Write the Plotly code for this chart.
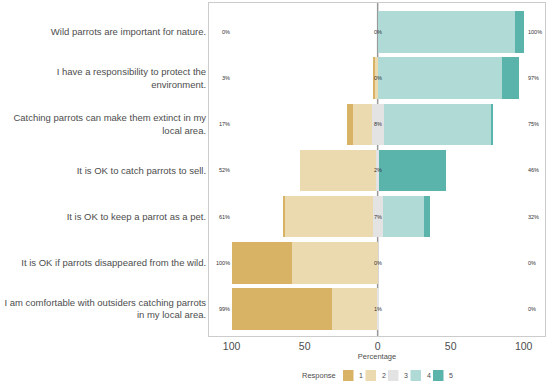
import plotly.graph_objects as go

statements = [
    "Wild parrots are important for nature.",
    "I have a responsibility to protect the<br>environment.",
    "Catching parrots can make them extinct in my<br>local area.",
    "It is OK to catch parrots to sell.",
    "It is OK to keep a parrot as a pet.",
    "It is OK if parrots disappeared from the wild.",
    "I am comfortable with outsiders catching parrots<br>in my local area.",
]
# percentage of answers per response level (1 = strongly disagree ... 5 = strongly agree)
resp1 = [0, 1.5, 4, 0, 1, 41, 68]
resp2 = [0, 1.5, 13, 52, 60, 59, 31]
resp3 = [0, 0, 8, 2, 7, 0, 1]
resp4 = [94, 85, 74, 0, 28, 0, 0]
resp5 = [6, 12, 1, 46, 4, 0, 0]

levels = ["1", "2", "3", "4", "5"]
colors = ["#D8B365", "#EBDAB0", "#E3E3E3", "#AFDAD6", "#5AB4AC"]

ypos = list(range(len(statements)))
FONT = "Liberation Sans, Arial, sans-serif"
TXT = "#4d4d4d"

W, H = 550, 384
ML, MR, MT, MB = 209, 5, 3, 48
PW, PH = W - ML - MR, H - MT - MB


def px(xp):
    return (xp - ML) / PW


def py(yp):
    return (H - MB - yp) / PH


fig = go.Figure()
bw = 0.9
# neutral split around zero
fig.add_bar(y=ypos, x=[-v / 2 for v in resp3], orientation="h", name=levels[2],
            marker=dict(color=colors[2], line_width=0), width=bw)
fig.add_bar(y=ypos, x=[v / 2 for v in resp3], orientation="h", name=levels[2],
            marker=dict(color=colors[2], line_width=0), width=bw)
fig.add_bar(y=ypos, x=[-v for v in resp2], orientation="h", name=levels[1],
            marker=dict(color=colors[1], line_width=0), width=bw)
fig.add_bar(y=ypos, x=[-v for v in resp1], orientation="h", name=levels[0],
            marker=dict(color=colors[0], line_width=0), width=bw)
fig.add_bar(y=ypos, x=resp4, orientation="h", name=levels[3],
            marker=dict(color=colors[3], line_width=0), width=bw)
fig.add_bar(y=ypos, x=resp5, orientation="h", name=levels[4],
            marker=dict(color=colors[4], line_width=0), width=bw)

for i in ypos:
    left = round(resp1[i] + resp2[i])
    mid = round(resp3[i])
    right = round(resp4[i] + resp5[i])
    for xv, txt, anc in [(-100, f"{left}%", "right"), (0, f"{mid}%", "center"), (101.5, f"{right}%", "left")]:
        fig.add_annotation(x=xv, y=i, text=txt, showarrow=False, xanchor=anc,
                           font=dict(size=5.5, color="#333333", family=FONT))

fig.add_shape(type="line", x0=0, x1=0, y0=0, y1=1, xref="x", yref="paper",
              line=dict(color="#999999", width=1.5), layer="below")

# legend (drawn compactly like the original)
leg_y = 375.5
fig.add_annotation(x=px(338), y=py(leg_y), xref="paper", yref="paper", text="Response",
                   showarrow=False, xanchor="right", yanchor="middle",
                   font=dict(size=7.5, color=TXT, family=FONT))
for k, (lab, col) in enumerate(zip(levels, colors)):
    x0 = 343 + k * 22.5
    fig.add_shape(type="rect", xref="paper", yref="paper",
                  x0=px(x0), x1=px(x0 + 10.5), y0=py(leg_y - 5.5), y1=py(leg_y + 5.5),
                  fillcolor=col, line_width=0)
    fig.add_annotation(x=px(x0 + 14), y=py(leg_y), xref="paper", yref="paper", text=lab,
                       showarrow=False, xanchor="left", yanchor="middle",
                       font=dict(size=7, color=TXT, family=FONT))

fig.update_layout(
    width=W, height=H,
    margin=dict(l=ML, r=MR, t=MT, b=MB),
    paper_bgcolor="white", plot_bgcolor="white",
    barmode="relative", bargap=0,
    font=dict(family=FONT, color=TXT),
    showlegend=False,
    xaxis=dict(range=[-115.5, 114.6], tickvals=[-100, -50, 0, 50, 100],
               ticktext=["100", "50", "0", "50", "100"], showgrid=False, zeroline=False,
               showline=True, mirror=True, linecolor="#cccccc", linewidth=1,
               tickfont=dict(size=10.5, color=TXT), automargin=False,
               title=dict(text="Percentage", font=dict(size=7.5, color=TXT), standoff=3)),
    yaxis=dict(range=[6.585, -0.628], tickvals=ypos, ticktext=statements, showgrid=False,
               zeroline=False, showline=True, mirror=True, linecolor="#cccccc", linewidth=1,
               tickfont=dict(size=9.5, color=TXT), automargin=False),
)

fig.write_html("out.html", config={"displayModeBar": False},
               post_script="document.body.style.margin='0';")
